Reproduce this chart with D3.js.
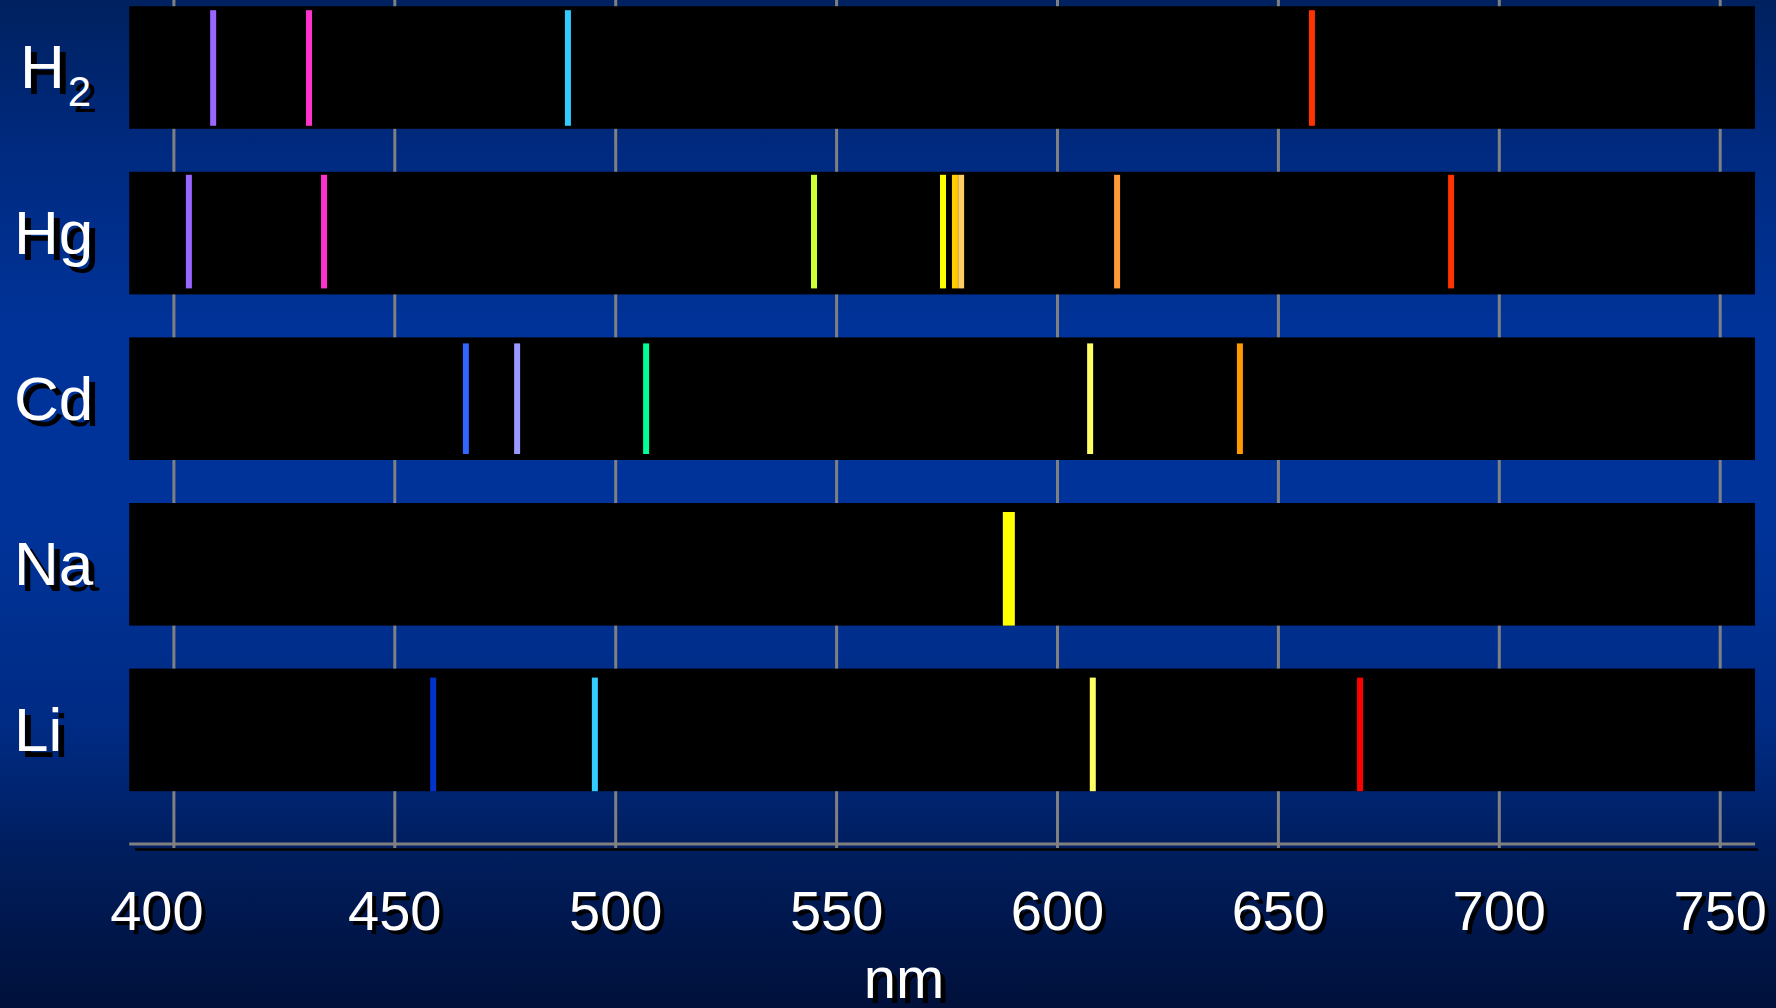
<!DOCTYPE html>
<html>
<head>
<meta charset="utf-8">
<script src="https://cdn.jsdelivr.net/npm/d3@7"></script>
<style>
  html, body { margin: 0; padding: 0; background: #001a55; }
  svg { display: block; }
  text { font-family: "Liberation Sans", Arial, sans-serif; }
</style>
</head>
<body>
<svg id="chart" width="1776" height="1008"></svg>
<script>
// ---------------- data ----------------
const elements = ["H2", "Hg", "Cd", "Na", "Li"];
const wavelengthsH2 = [409.0, 430.7, 489.3, 657.7];
const wavelengthsHg = [403.5, 434.1, 545.0, 574.2, 576.9, 578.3, 613.6, 689.2];
const wavelengthsCd = [466.2, 477.8, 507.0, 607.5, 641.4];
const wavelengthsNa = [589.1];
const wavelengthsLi = [458.8, 495.4, 608.1, 668.6];
const spectrumWindow = [390, 758];           // wavelength span of the black strips
const tickValues = [400, 450, 500, 550, 600, 650, 700, 750];
const tickLabels = ["400", "450", "500", "550", "600", "650", "700", "750"];
const axisTitle = "nm";

// ---------------- styles ----------------
const lineColors = {
  H2: ["#9966FF", "#FF33CC", "#33CCFF", "#FF3300"],
  Hg: ["#9966FF", "#FF33CC", "#CCFF33", "#FFFF00", "#FFCC00", "#FFCC66", "#FF9933", "#FF3300"],
  Cd: ["#3366FF", "#9999FF", "#00FF99", "#FFFF66", "#FF9900"],
  Na: ["#FFFF00"],
  Li: ["#0033CC", "#33CCFF", "#FFFF66", "#FF0000"]
};
const rowStyle = {
  H2: { top: 4, bottom: 3, width: 6 },
  Hg: { top: 3, bottom: 6, width: 6 },
  Cd: { top: 6, bottom: 6, width: 6 },
  Na: { top: 9, bottom: 0, width: 12 },
  Li: { top: 9, bottom: 0, width: 6 }
};
const wavelengthsByElement = { H2: wavelengthsH2, Hg: wavelengthsHg, Cd: wavelengthsCd, Na: wavelengthsNa, Li: wavelengthsLi };

const W = 1776, H = 1008;
const svg = d3.select("#chart");

// background gradient
const defs = svg.append("defs");
const grad = defs.append("linearGradient").attr("id", "bg").attr("x1", 0).attr("y1", 0).attr("x2", 0).attr("y2", 1);
[[0, "#00215F"], [0.15, "#002A80"], [0.33, "#003399"], [0.52, "#003399"], [0.72, "#002B84"], [0.85, "#001D5C"], [1, "#00103A"]]
  .forEach(([o, c]) => grad.append("stop").attr("offset", o).attr("stop-color", c));
svg.append("rect").attr("width", W).attr("height", H).attr("fill", "url(#bg)");

// scales
const x = d3.scaleLinear().domain([400, 750]).range([173.4, 1719.7]);
const y = d3.scaleBand().domain(elements).range([6.2, 791.2]).paddingInner(0.2597).paddingOuter(0);

const axisY = 844;

// gridlines (axis with long ticks, no labels)
const grid = svg.append("g").attr("transform", `translate(0,${axisY + 4})`)
  .call(d3.axisBottom(x).tickValues(tickValues).tickSize(-(axisY + 4)).tickFormat(""));
grid.select(".domain").remove();
grid.selectAll(".tick line").attr("stroke", "#808080").attr("stroke-width", 3);

// black spectrum strips
svg.append("g").selectAll("rect").data(elements).join("rect")
  .attr("x", x(spectrumWindow[0]))
  .attr("width", x(spectrumWindow[1]) - x(spectrumWindow[0]))
  .attr("y", d => y(d))
  .attr("height", y.bandwidth())
  .attr("fill", "#000");

// emission lines
const lineData = elements.flatMap(el => wavelengthsByElement[el].map((w, i) => ({ el, w, color: lineColors[el][i] })));
svg.append("g").selectAll("rect").data(lineData).join("rect")
  .attr("x", d => x(d.w) - rowStyle[d.el].width / 2)
  .attr("width", d => rowStyle[d.el].width)
  .attr("y", d => y(d.el) + rowStyle[d.el].top)
  .attr("height", d => y.bandwidth() - rowStyle[d.el].top - rowStyle[d.el].bottom)
  .attr("fill", d => d.color);

// baseline axis: grey rule and its black shadow
svg.append("line").attr("x1", x(spectrumWindow[0]) + 6).attr("x2", x(spectrumWindow[1]) + 3)
  .attr("y1", axisY + 5.5).attr("y2", axisY + 5.5).attr("stroke", "#000").attr("stroke-width", 2.5);
svg.append("line").attr("x1", x(spectrumWindow[0])).attr("x2", x(spectrumWindow[1]))
  .attr("y1", axisY).attr("y2", axisY).attr("stroke", "#808080").attr("stroke-width", 3);

// tick labels with drop shadow (two axes: shadow + white)
function labelAxis(offset, color) {
  const g = svg.append("g").attr("transform", `translate(${offset},${axisY + offset})`)
    .call(d3.axisBottom(x).tickValues(tickValues).tickSize(0).tickPadding(0)
      .tickFormat((d, i) => tickLabels[i]));
  g.select(".domain").remove();
  g.selectAll(".tick text")
    .attr("fill", color)
    .attr("font-size", 56)
    .attr("font-family", "\"Liberation Sans\", Arial, sans-serif")
    .attr("y", 86)
    .attr("dy", 0)
    .attr("dx", (d, i) => i === 0 ? -17 : 0);
}
labelAxis(4, "#000");
labelAxis(0, "#fff");

// axis title
[[5, "#000"], [0, "#fff"]].forEach(([o, c]) => {
  svg.append("text").attr("x", 904 + o).attr("y", 998 + o)
    .attr("text-anchor", "middle").attr("font-size", 58).attr("fill", c).text(axisTitle);
});

// row labels with drop shadow
[[6, "#000"], [0, "#fff"]].forEach(([o, c]) => {
  const t = svg.append("g").selectAll("text").data(elements).join("text")
    .attr("x", d => (d === "H2" ? 20 : 14) + o)
    .attr("y", d => y(d) + y.bandwidth() / 2 + 21 + o)
    .attr("font-size", 62)
    .attr("fill", c);
  t.each(function (d) {
    const s = d3.select(this);
    if (d === "H2") {
      s.append("tspan").text("H");
      s.append("tspan").attr("font-size", 42).attr("dx", 3).attr("dy", 18).text("2");
    } else {
      s.text(d);
    }
  });
});
</script>
</body>
</html>
